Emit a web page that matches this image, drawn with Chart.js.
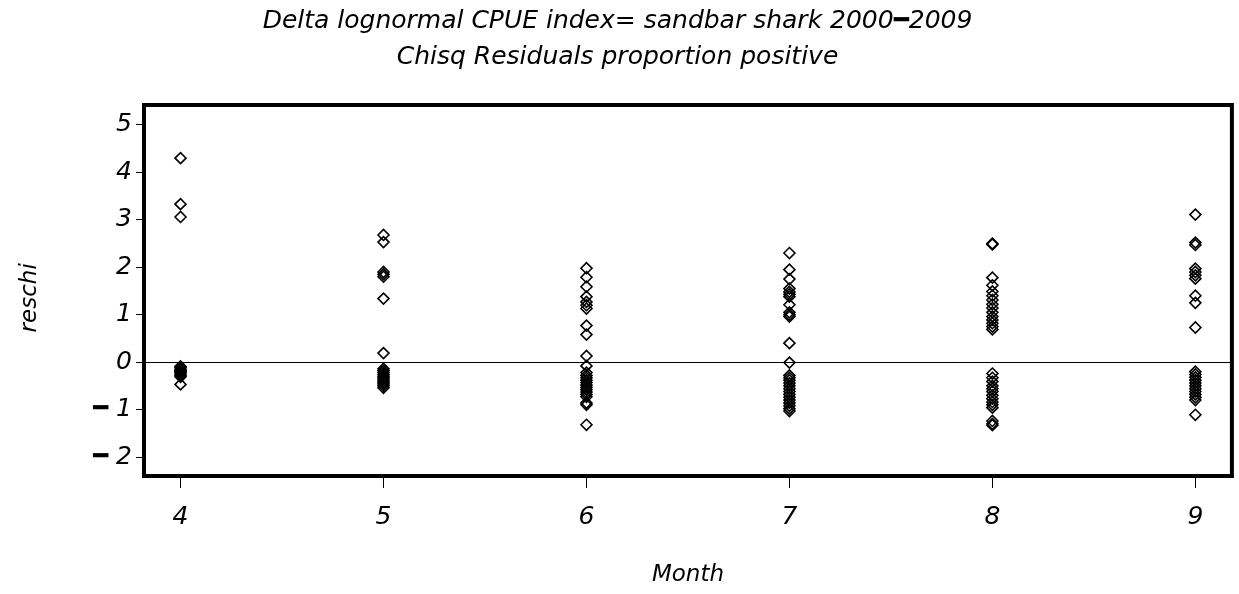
<!DOCTYPE html>
<html>
<head>
<meta charset="utf-8">
<title>reschi by Month</title>
<script src="https://cdn.jsdelivr.net/npm/chart.js@4/dist/chart.umd.min.js"></script>
<style>
  html, body { margin: 0; padding: 0; background: #fff; }
  #wrap { width: 1239px; height: 594px; }
</style>
</head>
<body>
<div id="wrap"><canvas id="resid"></canvas></div>
<script>
// chi-square residuals by month
const months = [4, 5, 6, 7, 8, 9];
const apr = [4.30, 3.33, 3.06, -0.09, -0.12, -0.15, -0.18, -0.20, -0.22, -0.25, -0.28, -0.31, -0.47];
const may = [2.68, 2.53, 1.90, 1.85, 1.80, 1.34, 0.19, -0.14, -0.18, -0.22, -0.26, -0.30, -0.33, -0.36, -0.40, -0.43, -0.46, -0.50, -0.54];
const jun = [1.98, 1.79, 1.59, 1.38, 1.27, 1.20, 1.13, 0.77, 0.58, 0.13, -0.08, -0.22, -0.28, -0.33, -0.38, -0.43, -0.48, -0.53, -0.58, -0.63, -0.68, -0.73, -0.86, -0.90, -1.32];
const jul = [2.30, 1.95, 1.75, 1.55, 1.48, 1.43, 1.38, 1.21, 1.05, 1.00, 0.96, 0.40, -0.01, -0.28, -0.33, -0.38, -0.44, -0.50, -0.56, -0.62, -0.68, -0.74, -0.80, -0.86, -0.92, -0.98, -1.03];
const aug = [2.50, 2.48, 1.78, 1.62, 1.49, 1.40, 1.31, 1.22, 1.14, 1.05, 0.96, 0.89, 0.82, 0.75, 0.69, -0.24, -0.33, -0.41, -0.50, -0.56, -0.62, -0.70, -0.77, -0.84, -0.90, -0.96, -1.24, -1.30, -1.33];
const sep = [3.11, 2.52, 2.47, 1.97, 1.90, 1.83, 1.76, 1.40, 1.25, 0.73, -0.20, -0.26, -0.32, -0.38, -0.44, -0.50, -0.56, -0.62, -0.68, -0.74, -0.80, -1.11];
const yTicks = [-2, -1, 0, 1, 2, 3, 4, 5];

const byMonth = [apr, may, jun, jul, aug, sep];
const points = [];
byMonth.forEach((vals, i) => vals.forEach(v => points.push({ x: months[i], y: v })));

const FONT = '"DejaVu Sans", Verdana, sans-serif';
// heavy bar for the minus sign, as on the old plotter output
const tickLabel = v => v < 0 ? '\u2501 ' + Math.abs(v) : String(v);

// heavy frame around the plotting area
const frame = {
  id: 'frame',
  afterDraw(chart) {
    const { ctx, chartArea: a } = chart;
    ctx.save();
    ctx.strokeStyle = '#000';
    ctx.lineWidth = 4;
    ctx.strokeRect(a.left, a.top, a.right - a.left, a.bottom - a.top);
    ctx.restore();
  }
};

new Chart(document.getElementById('resid'), {
  type: 'scatter',
  data: {
    datasets: [{
      label: 'reschi',
      data: points,
      pointStyle: 'rectRot',
      pointRadius: 5.5,
      pointHoverRadius: 5.5,
      borderColor: '#000',
      backgroundColor: 'rgba(255,255,255,0)',
      borderWidth: 1.6
    }]
  },
  options: {
    responsive: true,
    maintainAspectRatio: false,
    animation: false,
    layout: { padding: { left: 0, right: 4, top: 0, bottom: 0 } },
    plugins: {
      legend: { display: false },
      tooltip: { enabled: false },
      title: {
        display: true,
        text: 'Delta lognormal CPUE index= sandbar shark 2000\u25012009',
        color: '#000',
        font: { family: FONT, size: 25, style: 'italic', weight: 'normal' },
        padding: { top: 6, bottom: 2 }
      },
      subtitle: {
        display: true,
        text: 'Chisq Residuals proportion positive',
        color: '#000',
        font: { family: FONT, size: 25, style: 'italic', weight: 'normal' },
        padding: { top: 4, bottom: 33 }
      }
    },
    scales: {
      x: {
        type: 'linear',
        min: 3.82,
        max: 9.18,
        afterBuildTicks: s => { s.ticks = months.map(v => ({ value: v })); },
        afterFit: s => { s.height = 118; },
        border: { display: false },
        grid: { drawOnChartArea: false, drawTicks: true, tickLength: 12, color: '#000', tickColor: '#000', lineWidth: 1 },
        ticks: {
          color: '#000',
          padding: 14,
          font: { family: FONT, size: 25, style: 'italic' },
          callback: v => String(v)
        },
        title: {
          display: true,
          text: 'Month',
          color: '#000',
          font: { family: FONT, size: 23, style: 'italic' },
          padding: { top: 0, bottom: 5 }
        }
      },
      y: {
        type: 'linear',
        min: -2.40,
        max: 5.42,
        afterBuildTicks: s => { s.ticks = yTicks.map(v => ({ value: v })); },
        afterFit: s => { s.width = 144; },
        border: { display: false },
        grid: {
          drawOnChartArea: true,
          drawTicks: true,
          tickLength: 8,
          tickColor: '#000',
          color: c => c.tick && c.tick.value === 0 ? '#000' : 'rgba(0,0,0,0)',
          lineWidth: 1
        },
        ticks: {
          color: '#000',
          padding: 4,
          font: { family: FONT, size: 25, style: 'italic' },
          callback: v => tickLabel(v)
        },
        title: {
          display: true,
          text: 'reschi  ',
          color: '#000',
          font: { family: FONT, size: 23, style: 'italic' },
          padding: { top: 16, bottom: 0 }
        }
      }
    }
  },
  plugins: [frame]
});
</script>
</body>
</html>
